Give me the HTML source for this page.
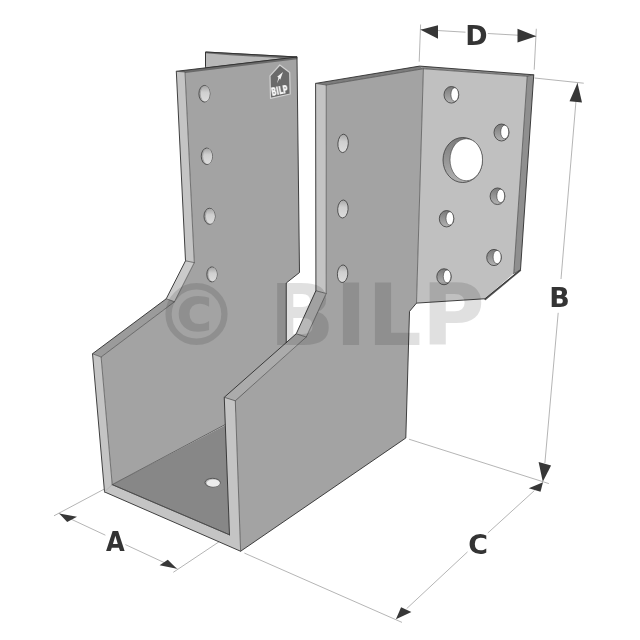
<!DOCTYPE html>
<html lang="en">
<head>
<meta charset="utf-8">
<title>BILP joist hanger – dimensions A B C D</title>
<style>
html,body{margin:0;padding:0;background:#fff;}
body{width:640px;height:640px;overflow:hidden;}
svg{display:block;filter:grayscale(1);}
text{font-family:"DejaVu Sans","Liberation Sans",sans-serif;font-weight:bold;}
</style>
</head>
<body>
<svg width="640" height="640" viewBox="0 0 640 640">
<rect width="640" height="640" fill="#fff"/>

<!-- ===== dimension extension lines (behind the part) ===== -->
<g stroke="#8c8c8c" stroke-width="0.65" fill="none">
  <line x1="104" y1="489.2" x2="54" y2="515.8"/>
  <line x1="229.5" y1="534.8" x2="173.3" y2="572.3"/>
  <line x1="58.75" y1="513.4" x2="105.4" y2="535.2"/><line x1="125.4" y1="544.6" x2="177.5" y2="568.75"/>
  <line x1="244.4" y1="553.1" x2="402" y2="622.4"/>
  <line x1="409" y1="439.2" x2="548.9" y2="483.6"/>
  <line x1="534.4" y1="490.6" x2="487.8" y2="533"/><line x1="467.5" y1="551.9" x2="406.7" y2="608.6"/>
  <line x1="534.6" y1="78" x2="583.75" y2="83.2"/>
  <line x1="577.5" y1="83" x2="561" y2="279"/><line x1="558.2" y1="312.8" x2="544.9" y2="463"/>
  <line x1="420.6" y1="24.5" x2="419.2" y2="61.7"/>
  <line x1="536.3" y1="28.75" x2="534.2" y2="69.7"/>
  <line x1="420.5" y1="29.5" x2="465.5" y2="32.2"/><line x1="487.8" y1="33.5" x2="536.25" y2="36.25"/>
</g>

<!-- ===== left strap: rear flange sliver ===== -->
<polygon points="205.5,52 297,57 205.5,68" fill="#b9b9b9" stroke="#333" stroke-width="0.8" stroke-linejoin="round"/>

<!-- ===== left wall inner face ===== -->
<polygon points="185,72 297,57 299.5,272.5 286.25,283 286.25,342.5 240,400 232,421.6 112.2,484.6 101.1,357 174.5,301.75 194.3,262.6" fill="#a3a3a3"/>

<polygon points="176.3,71.3 297,57 297.3,59.3 185.3,73" fill="#6a6a6a"/>
<polygon points="205.3,52 297,57 297,59 230,55.2 205.5,53.2" fill="#6a6a6a"/>
<!-- floor -->
<polygon points="112.2,484.6 226.25,424.7 229.5,534.8" fill="#878787"/>
<ellipse cx="212.6" cy="482.6" rx="7.6" ry="4.3" fill="#b4b4b4" stroke="#444" stroke-width="0.8"/>
<ellipse cx="213.3" cy="483.1" rx="6.6" ry="3.6" fill="#ececec"/>

<!-- left wall front/top edges -->
<polygon points="176.3,71.3 185,72 194.3,262.6 185.5,260.8" fill="#c4c4c4"/>
<polygon points="185.5,260.8 194.3,262.6 174.5,301.75 166.25,298.75" fill="#cbcbcb"/>
<polygon points="166.25,298.75 174.5,301.75 101.1,357 92.5,353.75" fill="#9b9b9b"/>

<!-- U front face -->
<polygon points="92.5,353.75 101.1,357 112.2,484.6 229.5,534.8 224.25,397.3 235.3,400.8 240.6,551.25 104.5,491.9" fill="#c4c4c4"/>

<!-- right wall outer face -->
<polygon points="235.3,400.8 306.25,337 326.2,293.5 326.25,85 423.4,68.75 416.5,303.1 409.5,311.4 405.8,438 240.6,551.25" fill="#a3a3a3"/>
<!-- right wall edge bands -->
<polygon points="224.25,397.3 296.25,333.75 306.25,337 235.3,400.8" fill="#ababab"/>
<polygon points="296.25,333.75 315.9,290.7 326.2,293.5 306.25,337" fill="#b8b8b8"/>
<polygon points="315.9,290.7 315.6,83.4 326.25,85 326.2,293.5" fill="#c4c4c4"/>
<polygon points="315.6,83.4 419.7,66.1 423.4,68.75 326.25,85" fill="#7c7c7c"/>

<!-- right flange -->
<polygon points="419.7,66.1 533.75,74.8 527.2,76.25 423.4,68.75" fill="#8a8a8a"/>
<polygon points="423.4,68.75 527.2,76.25 513.75,273.5 485,298.75 416.5,303.1" fill="#c0c0c0"/>
<polygon points="527.2,76.25 533.75,74.8 520.5,269.7 513.75,273.5" fill="#8f8f8f"/>

<!-- ===== outlines ===== -->
<g fill="none" stroke="#2e2e2e" stroke-width="0.9" stroke-linejoin="round" stroke-linecap="round">
  <!-- left strap outer -->
  <polyline points="205.5,66 205.5,52 297,57"/>
  <polyline points="485.3,299.3 520.3,270.3" stroke-width="1.7" stroke="#555"/>
  <polyline points="112.2,484.6 229.5,534.8" stroke-width="0.8"/>
  <polyline points="104.5,491.9 92.5,353.75 166.25,298.75 185.5,260.8 176.3,71.3 297,57 299.5,272.5 286.25,283 286.25,342.5"/>
  <polyline points="104.5,491.9 240.6,551.25 405.8,438 409.5,311.4 416.5,303.1 485,298.75 520.5,269.7 533.75,74.8 419.7,66.1 315.6,83.4 315.9,290.7 296.25,333.75 224.25,397.3 229.5,534.8"/>
</g>
<g fill="none" stroke="#4a4a4a" stroke-width="0.7" stroke-linejoin="round" stroke-linecap="round">
  <polyline points="176.3,71.3 185,72 194.3,262.6 174.5,301.75 101.1,357 112.2,484.6 229.5,534.8"/>
  <line x1="104.5" y1="491.9" x2="112.2" y2="484.6" stroke="#aaa"/>
  <line x1="185.5" y1="260.8" x2="194.3" y2="262.6"/>
  <line x1="166.25" y1="298.75" x2="174.5" y2="301.75"/>
  <line x1="92.5" y1="353.75" x2="101.1" y2="357"/>
  <line x1="112.2" y1="484.6" x2="225.3" y2="424.5"/>
  <polyline points="315.6,83.4 326.25,85 326.2,293.5 306.25,337 235.3,400.8 240.6,551.25"/>
  <line x1="315.9" y1="290.7" x2="326.2" y2="293.5"/>
  <line x1="296.25" y1="333.75" x2="306.25" y2="337"/>
  <line x1="224.25" y1="397.3" x2="235.3" y2="400.8"/>
  <polyline points="326.25,85 423.4,68.75 527.2,76.25 513.75,273.5"/>
  <line x1="423.4" y1="68.75" x2="416.5" y2="303.1"/>
  <line x1="527.2" y1="76.25" x2="533.75" y2="74.8"/>
  <line x1="513.75" y1="273.5" x2="520.5" y2="269.7"/>
</g>

<!-- ===== holes ===== -->
<defs>
  <linearGradient id="hg" x1="0" y1="0" x2="0" y2="1">
    <stop offset="0" stop-color="#a6a6a6"/><stop offset="0.4" stop-color="#cfcfcf"/><stop offset="1" stop-color="#dcdcdc"/>
  </linearGradient>
  <linearGradient id="cg" x1="0" y1="0" x2="0" y2="1">
    <stop offset="0" stop-color="#7a7a7a"/><stop offset="1" stop-color="#b2b2b2"/>
  </linearGradient>
</defs>
<g stroke="#3c3c3c" stroke-width="0.8">
  <g fill="#a6a6a6">
    <ellipse cx="204.4" cy="93.75" rx="5.5" ry="8.3"/>
    <ellipse cx="206.75" cy="156.25" rx="5.5" ry="8.2"/>
    <ellipse cx="209.5" cy="216.25" rx="5.5" ry="8"/>
    <ellipse cx="211.9" cy="274.4" rx="5.1" ry="7.5"/>
  </g>
  <g fill="url(#hg)" stroke="none">
    <ellipse cx="205.3" cy="93.75" rx="4.5" ry="7.8"/>
    <ellipse cx="207.65" cy="156.25" rx="4.5" ry="7.7"/>
    <ellipse cx="210.4" cy="216.25" rx="4.5" ry="7.5"/>
    <ellipse cx="212.7" cy="274.4" rx="4.2" ry="7"/>
  </g>
  <g fill="url(#hg)">
    <ellipse cx="343.1" cy="143.4" rx="5.2" ry="9.2" transform="rotate(4 343.1 143.4)"/>
    <ellipse cx="342.9" cy="209" rx="5.2" ry="9" transform="rotate(4 342.9 209)"/>
    <ellipse cx="342.6" cy="273.75" rx="5.2" ry="8.8" transform="rotate(4 342.6 273.75)"/>
  </g>
  <g fill="url(#cg)">
    <ellipse cx="451.4" cy="94.8" rx="7.4" ry="8.3"/>
    <ellipse cx="501.5" cy="132.5" rx="7.5" ry="8.5"/>
    <ellipse cx="497.5" cy="196.25" rx="7.4" ry="8.3"/>
    <ellipse cx="446.6" cy="218.75" rx="7.3" ry="8.2"/>
    <ellipse cx="494" cy="257.5" rx="7.3" ry="8.1"/>
    <ellipse cx="444" cy="276.75" rx="7.2" ry="8"/>
    <ellipse cx="462.75" cy="160" rx="19.75" ry="22.5"/>
  </g>
  <g fill="#fff" stroke-width="0.6">
    <ellipse cx="454.7" cy="94.5" rx="3.8" ry="6.8"/>
    <ellipse cx="504.7" cy="132" rx="4" ry="6.8"/>
    <ellipse cx="500.7" cy="195.9" rx="3.9" ry="6.7"/>
    <ellipse cx="449.8" cy="218.4" rx="3.8" ry="6.7"/>
    <ellipse cx="497.1" cy="257.1" rx="4" ry="6.7"/>
    <ellipse cx="447.1" cy="276.4" rx="3.8" ry="6.5"/>
    <ellipse cx="466.25" cy="159.75" rx="16.25" ry="21"/>
  </g>
</g>

<!-- ===== small logo ===== -->
<g transform="translate(280,82)">
  <polygon points="-0.2,-17 9.7,-9.5 10.2,12 -9.5,16.3 -10,-6.2" fill="#6a6a6a" stroke="#d2d2d2" stroke-width="1.2" stroke-linejoin="round"/>
  <polygon points="3,-10 0.2,-2.2 -0.6,-3.4 -3,1.5 -1.6,-4.4 -2.8,-5.2" fill="#f2f2f2"/>
  <text x="0" y="0" transform="rotate(-11) translate(-2.1,11.9)" font-family="'Liberation Sans',sans-serif" font-size="10.8" text-anchor="middle" fill="#f8f8f8" stroke="#f8f8f8" stroke-width="0.35" textLength="16.6" lengthAdjust="spacingAndGlyphs">BILP</text>
</g>

<!-- ===== watermark ===== -->
<g fill="#000" fill-opacity="0.12" font-size="86">
  <text x="153.4" y="344.8">© BILP</text>
</g>

<!-- ===== dimension arrows & labels ===== -->
<g fill="#373737">
  <polygon points="59.2,513.4 77,516.7 67.2,522.1"/>
  <polygon points="176.9,568.75 159.6,565.3 167.8,559.8"/>
  <polygon points="395.9,619.2 401.1,607.2 411.4,611.9"/>
  <polygon points="543,482.2 528.75,488.3 540.5,491.75"/>
  <polygon points="542.8,481.7 538.6,462 551.1,465.5"/>
  <polygon points="577.5,83 569.5,101.25 582,102.5"/>
  <polygon points="420.5,29.8 438,25.3 438,38.7"/>
  <polygon points="536.25,36.25 517.5,28.7 517.5,42.5"/>
</g>
<g fill="#333" font-size="26.9" text-anchor="middle" opacity="0.995">
  <text transform="translate(115.3,550.8) scale(0.9,1)">A</text>
  <text x="559.6" y="306.8">B</text>
  <text x="478" y="553.6">C</text>
  <text x="476.5" y="44.6">D</text>
</g>
</svg>
</body>
</html>
